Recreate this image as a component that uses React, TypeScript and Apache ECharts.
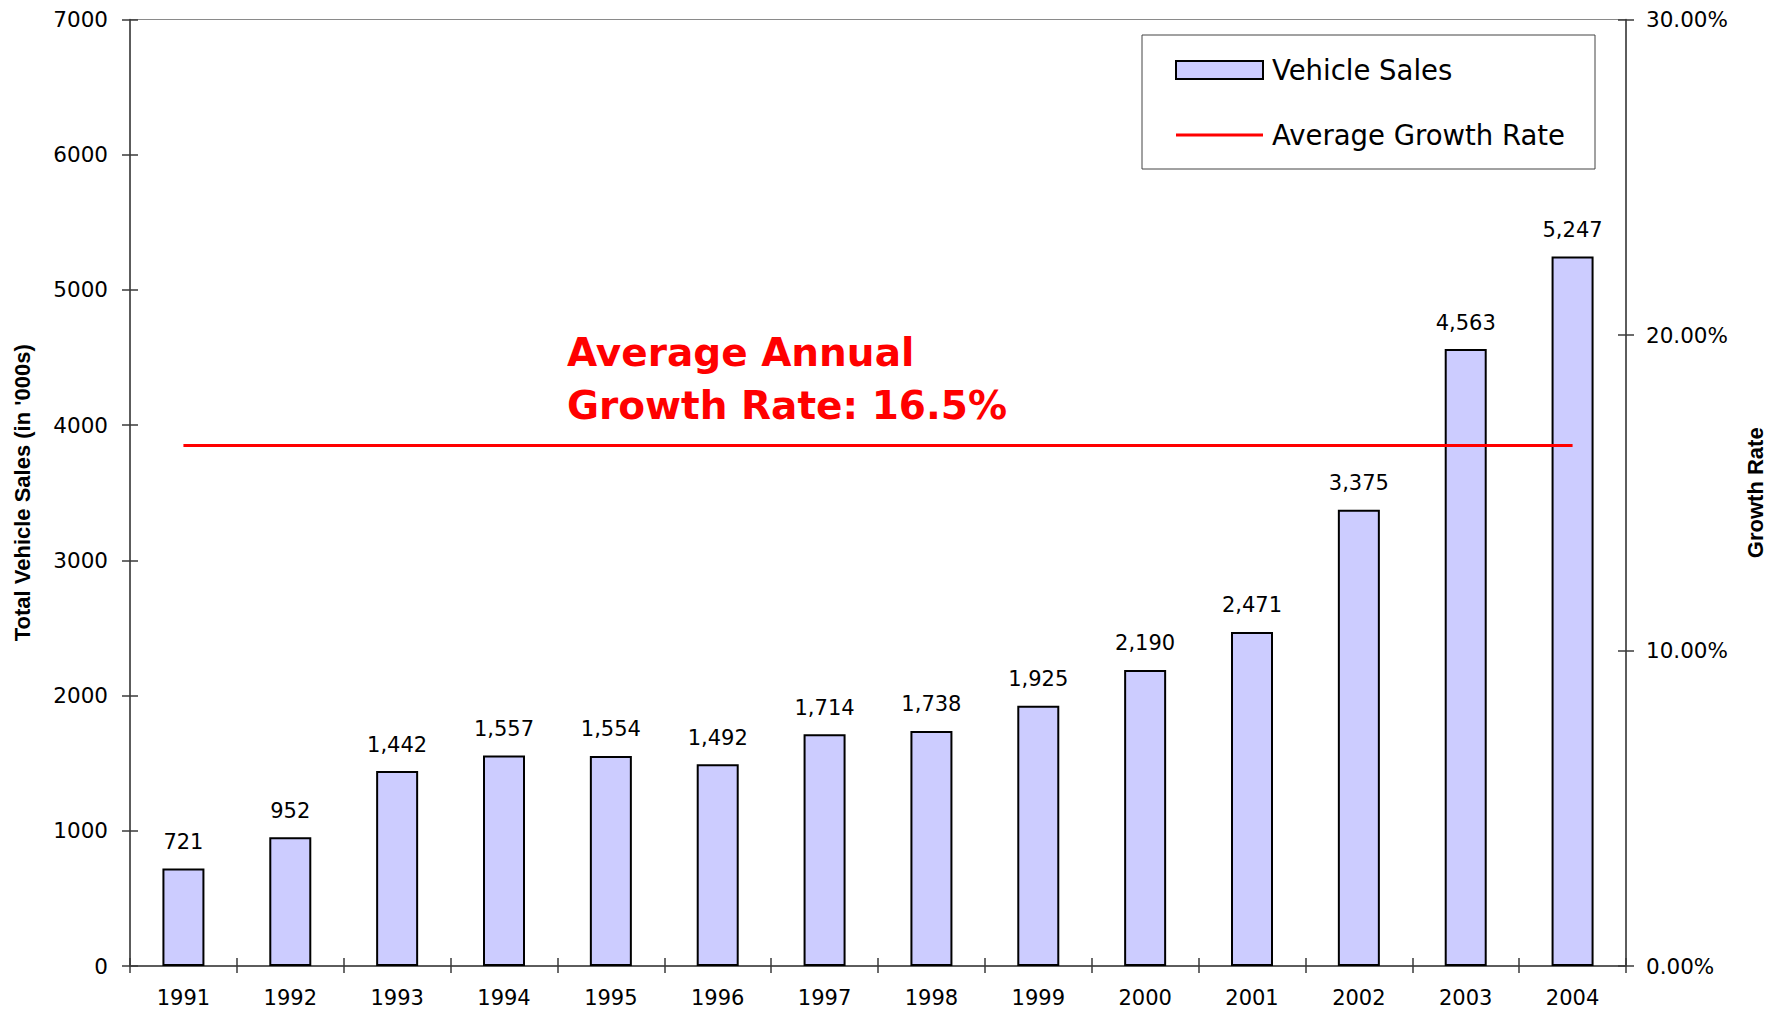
import React, { useEffect, useRef } from 'react';
import * as echarts from 'echarts';

const years = ['1991', '1992', '1993', '1994', '1995', '1996', '1997', '1998', '1999', '2000', '2001', '2002', '2003', '2004'];
const vehicleSales = [721, 952, 1442, 1557, 1554, 1492, 1714, 1738, 1925, 2190, 2471, 3375, 4563, 5247];
const avgGrowthRate = [16.5, 16.5, 16.5, 16.5, 16.5, 16.5, 16.5, 16.5, 16.5, 16.5, 16.5, 16.5, 16.5, 16.5];
const leftAxis = { min: 0, max: 7000, interval: 1000 };
const rightAxis = { min: 0, max: 30, interval: 10 };
const annotation = 'Average Annual\nGrowth Rate: 16.5%';

const tickFont = 'DejaVu Sans';
const axisColor = '#3a3a3a';

export default function App() {
  const ref = useRef<HTMLDivElement>(null);
  useEffect(() => {
    document.body.style.margin = '0';
    const chart = echarts.init(ref.current!, null, { renderer: 'svg' });
    const option: any = {
      animation: false,
      backgroundColor: '#ffffff',
      grid: {
        left: 130, right: 154, top: 19.5, bottom: 45,
        show: true, borderColor: '#8a8a8a', borderWidth: 1, backgroundColor: 'transparent',
      },
      legend: {
        orient: 'vertical', left: 1142, top: 35,
        padding: [21, 30, 20, 33],
        itemWidth: 87, itemHeight: 18, itemGap: 37,
        borderColor: '#444', borderWidth: 1,
        textStyle: { fontFamily: tickFont, fontSize: 27.5, color: '#000', padding: [0, 0, 0, 4] },
        data: [
          { name: 'Vehicle Sales', icon: 'rect' },
          { name: 'Average Growth Rate', icon: 'path://M0,0 L29,0 L29,1 L0,1 Z' },
        ],
      },
      xAxis: [
        {
          type: 'category', data: years, position: 'bottom',
          axisLine: { show: true, lineStyle: { color: axisColor, width: 1.5 } },
          axisTick: { show: true, length: 7, lineStyle: { color: axisColor, width: 1.5 } },
          axisLabel: { margin: 21, fontFamily: tickFont, fontSize: 21, color: '#000' },
          splitLine: { show: false },
        },
        {
          type: 'category', data: years, position: 'bottom',
          axisLine: { show: false },
          axisTick: { show: true, inside: true, length: 8, lineStyle: { color: axisColor, width: 1.5 } },
          axisLabel: { show: false },
          splitLine: { show: false },
        },
      ],
      yAxis: [
        {
          type: 'value', position: 'left', ...leftAxis,
          name: "Total Vehicle Sales (in '000s)", nameLocation: 'middle', nameGap: 97, nameRotate: 90,
          nameTextStyle: { fontFamily: 'Liberation Sans', fontWeight: 'bold', fontSize: 22, color: '#000' },
          axisLine: { show: true, lineStyle: { color: axisColor, width: 1.5 } },
          axisTick: { show: true, length: 8, lineStyle: { color: axisColor, width: 1.5 } },
          axisLabel: {
            margin: 22, fontFamily: tickFont, fontSize: 21.5, color: '#000',
            formatter: (v: number) => String(v),
          },
          splitLine: { show: false },
        },
        {
          type: 'value', position: 'right', ...rightAxis,
          name: 'Growth Rate', nameLocation: 'middle', nameGap: 118, nameRotate: 90,
          nameTextStyle: { fontFamily: 'Liberation Sans', fontWeight: 'bold', fontSize: 22, color: '#000' },
          axisLine: { show: true, lineStyle: { color: axisColor, width: 1.5 } },
          axisTick: { show: true, length: 8, lineStyle: { color: axisColor, width: 1.5 } },
          axisLabel: {
            margin: 20, fontFamily: tickFont, fontSize: 21.5, color: '#000',
            formatter: (v: number) => v.toFixed(2) + '%',
          },
          splitLine: { show: false },
        },
        {
          type: 'value', position: 'left', ...leftAxis,
          axisLine: { show: false },
          axisTick: { show: true, inside: true, length: 8, lineStyle: { color: axisColor, width: 1.5 } },
          axisLabel: { show: false },
          splitLine: { show: false },
        },
        {
          type: 'value', position: 'right', ...rightAxis,
          axisLine: { show: false },
          axisTick: { show: true, inside: true, length: 8, lineStyle: { color: axisColor, width: 1.5 } },
          axisLabel: { show: false },
          splitLine: { show: false },
        },
      ],
      series: [
        {
          name: 'Vehicle Sales', type: 'bar', data: vehicleSales, xAxisIndex: 0, yAxisIndex: 0,
          barWidth: 42,
          itemStyle: { color: '#CCCCFF', borderColor: '#000', borderWidth: 2 },
          label: {
            show: true, position: 'top', distance: 16,
            fontFamily: tickFont, fontSize: 21, color: '#000',
            formatter: (p: any) => Number(p.value).toLocaleString('en-US'),
          },
        },
        {
          name: 'Average Growth Rate', type: 'line', data: avgGrowthRate, xAxisIndex: 0, yAxisIndex: 1,
          symbol: 'none', showSymbol: false,
          lineStyle: { color: '#FF0000', width: 3 },
          itemStyle: { color: '#FF0000' },
        },
      ],
      graphic: [
        {
          type: 'text', left: 567, top: 326,
          style: {
            text: annotation, fontFamily: tickFont, fontWeight: 'bold', fontSize: 39,
            lineHeight: 53, fill: '#FF0000',
          },
        },
      ],
    };
    chart.setOption(option);
    return () => chart.dispose();
  }, []);
  return <div ref={ref} style={{ width: 1780, height: 1011 }} />;
}
